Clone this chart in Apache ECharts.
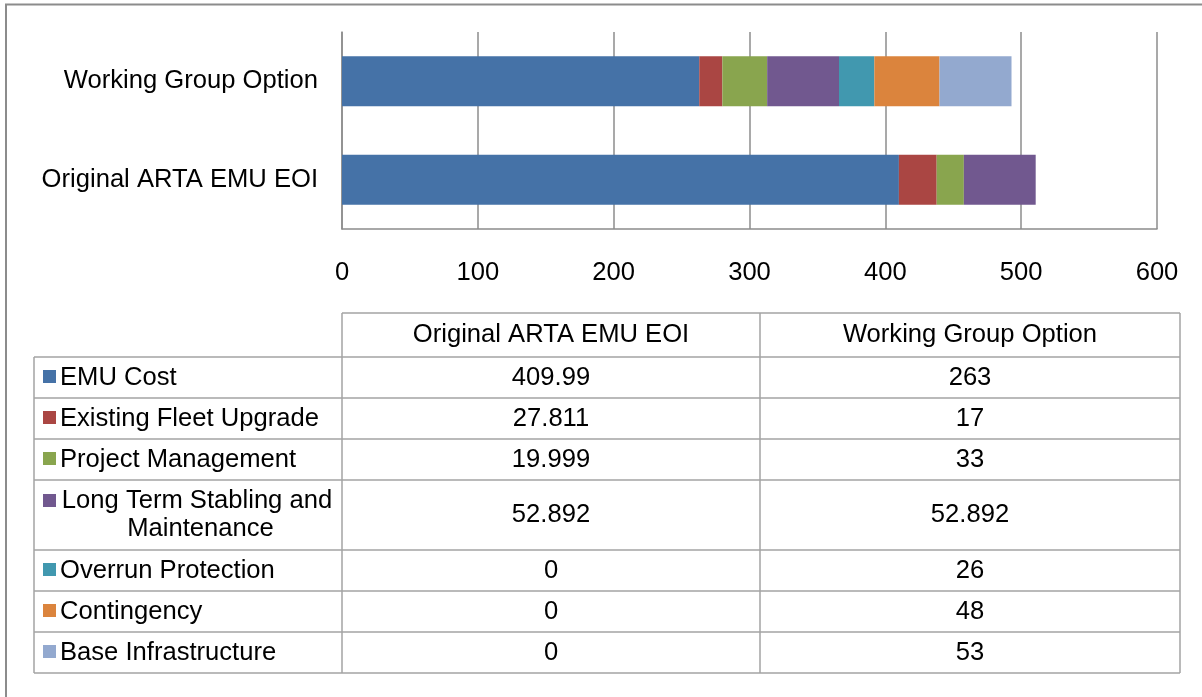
<!DOCTYPE html>
<html><head><meta charset="utf-8">
<script src="https://cdn.jsdelivr.net/npm/echarts@6/dist/echarts.min.js"></script>
<style>html,body{margin:0;padding:0;background:#fff}#c{width:1202px;height:697px}</style>
</head><body><div id="c"></div>
<script>
// ---- data ----
const categories = ['Original ARTA EMU EOI', 'Working Group Option'];
const seriesNames = ['EMU Cost', 'Existing Fleet Upgrade', 'Project Management', 'Long Term Stabling and Maintenance', 'Overrun Protection', 'Contingency', 'Base Infrastructure'];
const originalValues = [409.99, 27.811, 19.999, 52.892, 0, 0, 0];
const workingValues = [263, 17, 33, 52.892, 26, 48, 53];
const xTicks = [0, 100, 200, 300, 400, 500, 600];

// ---- style ----
const colors = ['#4572A7', '#AA4643', '#89A54E', '#71588F', '#4198AF', '#DB843D', '#93A9CF'];
const FONT_FAMILY = '"Liberation Sans", Arial, sans-serif';
const FS = 25.6;
const FONT = FS + 'px ' + FONT_FAMILY;
const LINE = '#a3a3a3';

// table layout
const tLeft = 34, c1 = 342, c2 = 760, tRight = 1180;
const hTop = 313, hBottom = 357;
const textX = 60, textW = 280;
const keyX = 43, keySize = 13;
const lineH = 28;

const measureCtx = document.createElement('canvas').getContext('2d');
measureCtx.font = FONT;

const graphics = [];
// outer border (top + left)
graphics.push({type: 'line', shape: {x1: 5, y1: 4.5, x2: 1202, y2: 4.5}, style: {stroke: '#8c8c8c', lineWidth: 2}, silent: true});
graphics.push({type: 'line', shape: {x1: 6, y1: 4, x2: 6, y2: 697}, style: {stroke: '#8c8c8c', lineWidth: 2}, silent: true});

function hline(x1, x2, y) { graphics.push({type: 'line', shape: {x1: x1, y1: y, x2: x2, y2: y}, style: {stroke: LINE, lineWidth: 1.5}, silent: true}); }
function vline(x, y1, y2) { graphics.push({type: 'line', shape: {x1: x, y1: y1, x2: x, y2: y2}, style: {stroke: LINE, lineWidth: 1.5}, silent: true}); }
function txt(s, x, y, align, extra) {
  const st = Object.assign({text: s, x: x, y: y, align: align, verticalAlign: 'middle', font: FONT, fill: '#000'}, extra || {});
  graphics.push({type: 'text', style: st, silent: true});
}

// header
hline(c1, tRight, hTop);
txt(categories[0], (c1 + c2) / 2, (hTop + hBottom) / 2, 'center');
txt(categories[1], (c2 + tRight) / 2, (hTop + hBottom) / 2, 'center');

let y = hBottom;
hline(tLeft, tRight, y);
seriesNames.forEach(function (name, i) {
  const wraps = measureCtx.measureText(name).width > textW;
  const h = wraps ? 70 : 41;
  const cy = y + h / 2;
  const firstLineY = wraps ? cy - lineH / 2 : cy;
  graphics.push({type: 'rect', shape: {x: keyX, y: Math.round(firstLineY - keySize / 2 - 1), width: keySize, height: keySize}, style: {fill: colors[i]}, silent: true});
  if (wraps) {
    txt(name, 197, cy, 'center', {width: textW, overflow: 'break', lineHeight: lineH});
  } else {
    txt(name, textX, cy, 'left');
  }
  txt(String(originalValues[i]), (c1 + c2) / 2, cy, 'center');
  txt(String(workingValues[i]), (c2 + tRight) / 2, cy, 'center');
  y += h;
  hline(tLeft, tRight, y);
});
vline(tLeft, hBottom, y);
vline(c1, hTop, y);
vline(c2, hTop, y);
vline(tRight, hTop, y);

const series = seriesNames.map(function (name, i) {
  return {
    name: name,
    type: 'bar',
    stack: 'total',
    barWidth: 50,
    itemStyle: {color: colors[i]},
    emphasis: {disabled: true},
    data: [originalValues[i], workingValues[i]]
  };
});

const chart = echarts.init(document.getElementById('c'), null, {renderer: 'canvas'});
chart.setOption({
  animation: false,
  backgroundColor: '#fff',
  grid: {left: 342, right: 45, top: 32, height: 197, containLabel: false},
  xAxis: {
    type: 'value',
    min: xTicks[0], max: xTicks[xTicks.length - 1], interval: xTicks[1] - xTicks[0],
    axisLine: {show: true, lineStyle: {color: '#8c8c8c', width: 1.5}},
    axisTick: {show: false},
    splitLine: {show: true, lineStyle: {color: '#8c8c8c', width: 1.5}},
    axisLabel: {margin: 31, color: '#000', fontSize: FS, fontFamily: FONT_FAMILY}
  },
  yAxis: {
    type: 'category',
    data: categories,
    axisLine: {show: true, lineStyle: {color: '#8c8c8c', width: 1.5}},
    axisTick: {show: false},
    axisLabel: {margin: 24, color: '#000', fontSize: FS, fontFamily: FONT_FAMILY}
  },
  series: series,
  graphic: graphics
});
</script></body></html>
